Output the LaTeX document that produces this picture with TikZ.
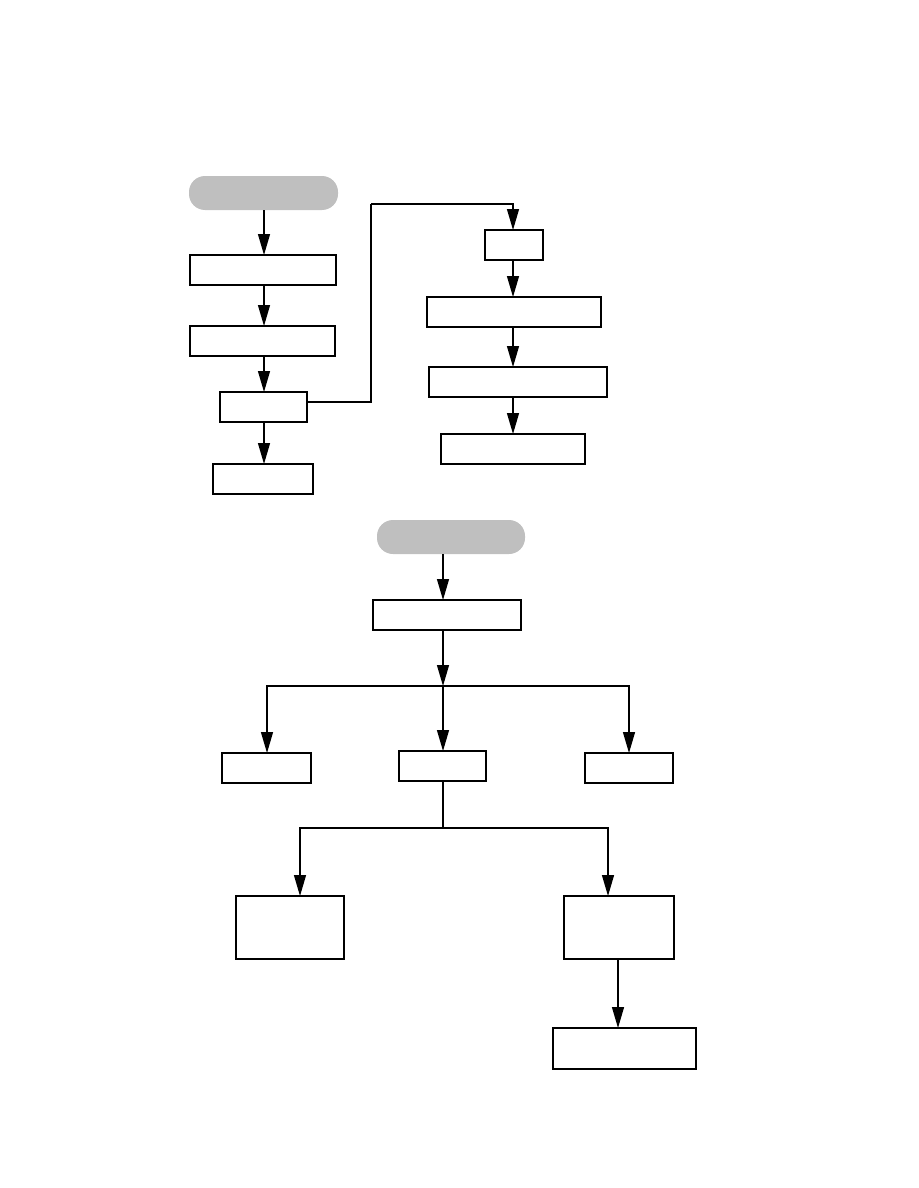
\documentclass[tikz,border=0pt]{standalone}
\usetikzlibrary{arrows.meta}
\begin{document}
\begin{tikzpicture}[x=1pt,y=-1pt,
  box/.style={draw=black,line width=1.2pt,fill=white,inner sep=0pt,outer sep=0pt},
  pill/.style={fill=black!25,rounded corners=16pt,inner sep=0pt,outer sep=0pt},
  conn/.style={line width=1.3pt},
  arr/.style={conn,-{Triangle[length=21pt,width=12pt]}}]
\useasboundingbox (0,0) rectangle (918,1188);
\newcommand{\bx}[6]{\node[#1,minimum width={#4-#3},minimum height={#6-#5}] (#2) at ({(#3+#4)/2},{(#5+#6)/2}) {};}
% top left column
\bx{pill}{p1}{189}{338}{176}{210}
\bx{box}{a1}{190}{336}{255}{285}
\bx{box}{a2}{190}{335}{326}{356}
\bx{box}{a3}{220}{307}{392}{422}
\bx{box}{a4}{213}{313}{464}{494}
% top right column
\bx{box}{r1}{485}{543}{230}{260}
\bx{box}{r2}{427}{601}{297}{327}
\bx{box}{r3}{429}{607}{367}{397}
\bx{box}{r4}{441}{585}{434}{464}
% bottom
\bx{pill}{p2}{377}{525}{520}{554}
\bx{box}{b1}{373}{521}{600}{630}
\bx{box}{bl}{222}{311}{753}{783}
\bx{box}{bm}{399}{486}{751}{781}
\bx{box}{br}{585}{673}{753}{783}
\bx{box}{cl}{236}{344}{896}{959}
\bx{box}{cr}{564}{674}{896}{959}
\bx{box}{d1}{553}{696}{1028}{1069}
% column positions
\coordinate (xa) at (264,0);
\coordinate (xr) at (513,0);
\coordinate (xb) at (443,0);
\coordinate (xl) at (267,0);
\coordinate (xrr) at (629,0);
\coordinate (xcl) at (300,0);
\coordinate (xcr) at (608,0);
\coordinate (xd) at (618,0);
\coordinate (k1) at (371,204);
\coordinate (j1) at (443,686);
\coordinate (j2) at (443,828);
% connectors
\draw[arr] (p1.south -| xa) -- (a1.north -| xa);
\draw[arr] (a1.south -| xa) -- (a2.north -| xa);
\draw[arr] (a2.south -| xa) -- (a3.north -| xa);
\draw[arr] (a3.south -| xa) -- (a4.north -| xa);
\draw[conn] (a3.east |- 0,402) -| (k1);
\draw[arr] (k1) -| (r1.north -| xr);
\draw[arr] (r1.south -| xr) -- (r2.north -| xr);
\draw[arr] (r2.south -| xr) -- (r3.north -| xr);
\draw[arr] (r3.south -| xr) -- (r4.north -| xr);
\draw[arr] (p2.south -| xb) -- (b1.north -| xb);
\draw[arr] (b1.south -| xb) -- (j1);
\draw[arr] (j1) -| (bl.north -| xl);
\draw[arr] (j1) -- (bm.north -| xb);
\draw[arr] (j1) -| (br.north -| xrr);
\draw[conn] (bm.south -| xb) -- (j2);
\draw[arr] (j2) -| (cl.north -| xcl);
\draw[arr] (j2) -| (cr.north -| xcr);
\draw[arr] (cr.south -| xd) -- (d1.north -| xd);
\end{tikzpicture}
\end{document}
